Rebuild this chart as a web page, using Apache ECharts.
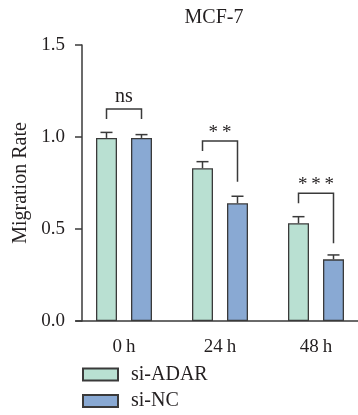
<!DOCTYPE html>
<html>
<head>
<meta charset="utf-8">
<script src="https://cdn.jsdelivr.net/npm/echarts@6/dist/echarts.min.js"></script>
<style>
html,body{margin:0;padding:0;background:#fff;}
#chart{width:358px;height:415px;}
</style>
</head>
<body>
<div id="chart"></div>
<script>
// ---- data ----
const title = 'MCF-7';
const yAxisName = 'Migration Rate';
const categories = ['0\u2009h', '24\u2009h', '48\u2009h'];
const seriesNames = ['si-ADAR', 'si-NC'];
const siADAR = [0.995, 0.83, 0.531];
const siADARErr = [0.03, 0.036, 0.036];
const siNC = [0.995, 0.64, 0.335];
const siNCErr = [0.018, 0.038, 0.024];
const yTicks = [0, 0.5, 1.0, 1.5];
const bracketTop = [1.152, 0.978, 0.694];
const bracketLeft = [1.098, 0.924, 0.64];
const bracketRight = [1.098, 0.757, 0.422];
const sigLabels = ['ns', '*\u2009*', '*\u2009*\u2009*'];

// ---- style ----
const FONT = '"Liberation Serif", "Times New Roman", serif';
const TXT = '#231f20';
const LINE = '#3a3a3a';
const BAR_W = 21;
const BAR_GAP = 14 / 21;
const OFF = (BAR_W + BAR_W * BAR_GAP) / 2;
const CAP = 12;
const colors = ['#b9e0d2', '#89a9d3'];

const chart = echarts.init(document.getElementById('chart'), null, {renderer: 'canvas'});

function errRender(sign) {
  return function (params, api) {
    const x = api.value(0), v = api.value(1), e = api.value(2);
    const p0 = api.coord([x, v]);
    const p1 = api.coord([x, v + e]);
    const cx = p0[0] + sign * OFF;
    const st = {stroke: LINE, lineWidth: 1.5, fill: null};
    return {type: 'group', children: [
      {type: 'line', shape: {x1: cx, y1: p0[1], x2: cx, y2: p1[1]}, style: st},
      {type: 'line', shape: {x1: cx - CAP / 2, y1: p1[1], x2: cx + CAP / 2, y2: p1[1]}, style: st}
    ]};
  };
}

function bracketRender(params, api) {
  const i = params.dataIndex;
  const x = api.value(0);
  const t = api.coord([x, api.value(1)]);
  const l = api.coord([x, api.value(2)]);
  const r = api.coord([x, api.value(3)]);
  const xl = t[0] - OFF, xr = t[0] + OFF;
  const st = {stroke: LINE, lineWidth: 1.5, fill: null};
  const isStar = sigLabels[i].indexOf('*') >= 0;
  return {type: 'group', children: [
    {type: 'polyline', shape: {points: [[xl, l[1]], [xl, t[1]], [xr, t[1]], [xr, r[1]]]}, style: st},
    {type: 'text', x: t[0], y: t[1] - (isStar ? -1 : 2),
      style: {text: sigLabels[i], font: (isStar ? '19px ' : '20px ') + FONT, fill: TXT, align: 'center', verticalAlign: 'bottom'}}
  ]};
}

const option = {
  animation: false,
  title: {
    text: title, left: 214, top: 8, textAlign: 'center', padding: 0,
    textStyle: {fontFamily: FONT, fontSize: 20, fontWeight: 'normal', color: TXT}
  },
  legend: {
    data: seriesNames, orient: 'vertical', left: 82, top: 364.5, padding: 0,
    itemWidth: 35, itemHeight: 12, itemGap: 6.5,
    icon: 'rect',
    textStyle: {fontFamily: FONT, fontSize: 20, color: TXT, padding: [0, 0, 0, 8], lineHeight: 20}
  },
  grid: {left: 76, width: 288, top: 45, bottom: 94, containLabel: false, outerBoundsMode: 'none'},
  xAxis: {
    type: 'category', data: categories,
    axisLine: {lineStyle: {color: LINE, width: 1.5}},
    axisTick: {alignWithLabel: true, length: 7, lineStyle: {color: LINE, width: 1.5}},
    axisLabel: {fontFamily: FONT, fontSize: 19, color: TXT, margin: 17}
  },
  yAxis: {
    type: 'value', min: 0, max: 1.5, interval: 0.5, offset: -6,
    name: yAxisName, nameLocation: 'middle', nameGap: 42,
    nameTextStyle: {fontFamily: FONT, fontSize: 20, color: TXT},
    axisLine: {show: true, lineStyle: {color: LINE, width: 1.5}},
    axisTick: {show: true, length: 7, lineStyle: {color: LINE, width: 1.5}},
    axisLabel: {fontFamily: FONT, fontSize: 19, color: TXT, margin: 17,
      formatter: v => yTicks.includes(v) ? v.toFixed(1) : ''},
    splitLine: {show: false}
  },
  series: [
    {name: seriesNames[0], type: 'bar', data: siADAR, barWidth: BAR_W, barGap: (BAR_GAP * 100) + '%',
      itemStyle: {color: colors[0], borderColor: LINE, borderWidth: 1.3}},
    {name: seriesNames[1], type: 'bar', data: siNC, barWidth: BAR_W, barGap: (BAR_GAP * 100) + '%',
      itemStyle: {color: colors[1], borderColor: LINE, borderWidth: 1.3}},
    {name: 'errA', type: 'custom', renderItem: errRender(-1), z: 3,
      data: siADAR.map((v, i) => [i, v, siADARErr[i]]), encode: {x: 0, y: 1}},
    {name: 'errN', type: 'custom', renderItem: errRender(1), z: 3,
      data: siNC.map((v, i) => [i, v, siNCErr[i]]), encode: {x: 0, y: 1}},
    {name: 'sig', type: 'custom', renderItem: bracketRender, z: 3,
      data: bracketTop.map((v, i) => [i, v, bracketLeft[i], bracketRight[i]]), encode: {x: 0, y: [1, 2, 3]}}
  ]
};
chart.setOption(option);
</script>
</body>
</html>
